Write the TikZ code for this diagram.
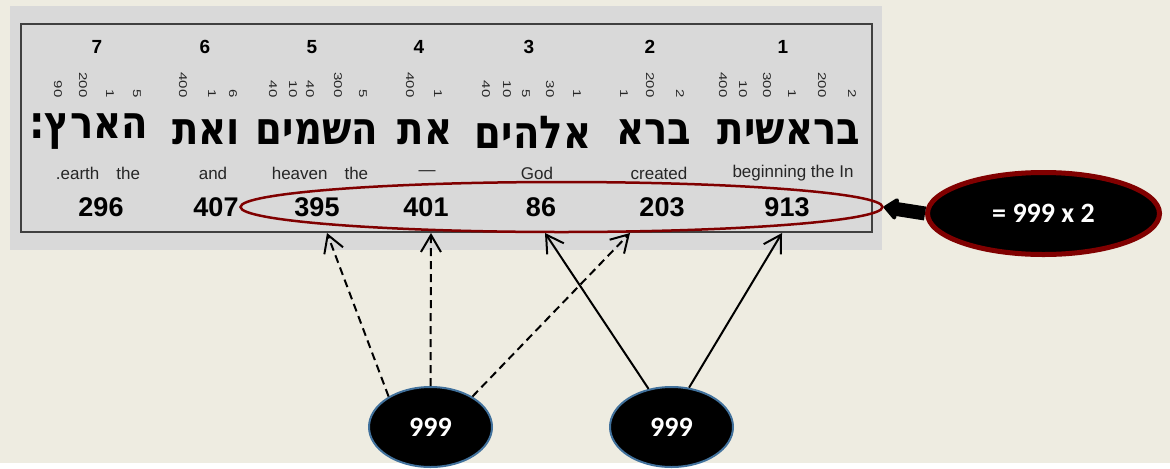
\documentclass[tikz,border=0pt]{standalone}
\usepackage{fontspec}
\setmainfont{Liberation Sans}
\newfontfamily\hebfont[Script=Hebrew]{DejaVu Sans}
\newfontfamily\calfont{Carlito}
\TeXXeTstate=1
\usetikzlibrary{calc,shapes.geometric,arrows.meta}
\definecolor{bgbeige}{RGB}{238,236,225}
\definecolor{panelgray}{RGB}{217,217,217}
\definecolor{sumred}{RGB}{128,0,0}
\definecolor{rimblue}{RGB}{65,113,156}
\definecolor{inkgray}{RGB}{38,38,38}
\tikzset{
	colnum/.style={font=\fontsize{9.5}{9.5}\selectfont\bfseries},
	letval/.style={font=\fontsize{7.5}{7.5}\selectfont, text=inkgray, rotate=-90, yscale=.75, anchor=east, inner sep=0pt},
	word/.style={font=\hebfont\fontsize{21}{21}\selectfont\bfseries, xscale=.92, yscale=1.08},
	gloss/.style={font=\fontsize{8.5}{8.5}\selectfont, text=inkgray},
	wordsum/.style={font=\fontsize{13.5}{13.5}\selectfont\bfseries},
	blob/.style={ellipse, fill=black, draw=rimblue, line width=1pt, text=white, font=\calfont\fontsize{14}{14}\selectfont\bfseries},
	link/.style={line width=1pt, -{Straight Barb[length=8.5pt,width=10pt]}},
	dashline/.style={dash pattern=on 4pt off 2.5pt},
}
\begin{document}
\begin{tikzpicture}[x=0.5pt,y=0.5pt]
				\fill[bgbeige] (0,0) rectangle (1170,463);
				\fill[panelgray] (10,457) rectangle (882,213);
				\draw[line width=.75pt, black!75] (21,439) rectangle (872,231);
				
				\foreach \k/\xn/\xs/\v in {1/783/787/913, 2/650/662/203, 3/529/541/86, 4/419/426/401, 5/312/317/395, 6/205/216/407, 7/97/101/296}{
					\node[colnum] (n\k) at (\xn,416) {\k};
					\node[wordsum] (s\k) at (\xs,256) {\v};}
				
				\foreach \x/\v in {852/2, 822/200, 792/1, 767/300, 743/10, 723/400, 680/2, 650/200, 624/1, 577/1, 550/30, 526/5, 507/10, 486/40, 438/1, 410/400, 363/5, 338/300, 310/40, 293/10, 273/40, 233/6, 212/1, 183/400, 137/5, 110/1, 83/200, 58/90}{
					\node[letval] (v\x) at (\x,365) {\v};}
				
				\foreach \k/\x/\w in {1/789/בראשית, 2/654/ברא, 3/533/אלהים, 4/425/את, 5/317/השמים, 6/206/ואת, 7/89/הארץ:}{
					\node[word] (w\k) at (\x,331) {\beginR\w\endR};}
				
				\foreach \k/\x/\g in {1/793/beginning the In, 2/659/created, 3/537/God, 4/427/---, 5/320/heaven\quad the, 6/213/and, 7/98/.earth\quad the}{
					\node[gloss] (g\k) at (\x,290) {\g};}
				
				\node[ellipse, draw=sumred, line width=1.25pt, minimum width=321pt, minimum height=25pt] (tot) at (561.5,256) {};
				\node[ellipse, fill=black, draw=sumred, line width=2.5pt, minimum width=116pt, minimum height=41pt, text=white, font=\calfont\fontsize{14}{14}\selectfont\bfseries] (res) at (1043.5,249.5) {= 999 x 2};
				\draw[line width=7pt, -{Triangle[length=7.5pt,width=12.5pt,round]}] (res.west) -- (tot.east);
				
				\node[blob, minimum width=61.5pt, minimum height=40pt] (grpA) at (430.5,36) {999};
				\node[blob, minimum width=61.5pt, minimum height=40pt] (grpB) at (671.5,36) {999};
				
				\coordinate (t5) at (327,230);
				\coordinate (t4) at (431,230);
				\coordinate (t2) at (630,230);
				\coordinate (t3) at (545,230);
				\coordinate (t1) at (782,230);
				
				\draw[link,dashline] (grpA.144) -- (t5);
				\draw[link,dashline] (grpA.north) -- (t4);
				\draw[link,dashline] (grpA.36) -- (t2);
				\draw[link] (grpB.121) -- (t3);
				\draw[link] (grpB.66) -- (t1);
			\end{tikzpicture}
\end{document}
